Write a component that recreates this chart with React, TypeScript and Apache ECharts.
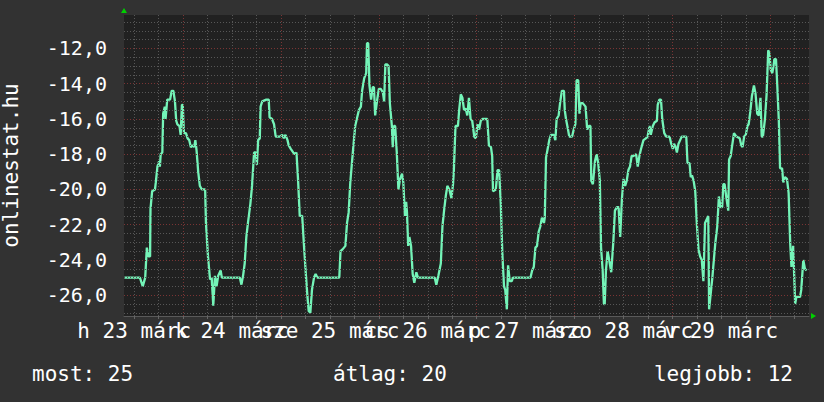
import React, { useEffect, useRef } from "react";
import * as echarts from "echarts";

// hours since 2015-03-23 00:00
const hours = [
  9.6, 13.4, 14.1, 14.7, 15.1, 15.5, 15.9, 16.0, 16.4, 17.1, 17.3, 17.7, 18.1, 18.3, 18.5, 18.9, 19.1, 19.5, 19.7, 20.1,
  20.8, 21.2, 21.6, 22.0, 22.3, 22.6, 23.1, 23.4, 23.7, 23.9, 24.2, 24.7, 25.1, 25.5, 25.9, 26.4, 26.7, 27.0, 27.3, 27.7,
  28.1, 28.6, 29.4, 29.6, 30.1, 30.6, 31.0, 31.4, 31.8, 32.2, 32.6, 33.2, 33.5, 37.9, 38.3, 38.7, 39.1, 39.5, 39.9, 40.5,
  40.9, 41.4, 41.8, 42.1, 42.4, 42.8, 43.0, 43.4, 44.4, 45.0, 45.2, 45.8, 46.3, 46.7, 47.7, 48.3, 48.7, 49.1, 49.6, 49.9,
  50.4, 51.0, 51.4, 51.8, 52.2, 52.6, 53.2, 53.7, 54.1, 54.5, 54.8, 55.2, 55.6, 56.1, 56.5, 56.9, 62.3, 62.6, 63.1, 63.8,
  64.2, 64.6, 65.0, 65.4, 65.7, 66.2, 66.7, 67.1, 67.6, 67.9, 68.4, 68.9, 69.1, 69.4, 69.7, 70.1, 70.5, 70.8, 71.1, 71.6,
  72.0, 72.5, 73.0, 73.3, 73.6, 74.0, 74.4, 74.7, 75.2, 75.4, 75.7, 76.0, 76.4, 76.8, 77.2, 77.7, 78.0, 78.4, 78.7, 78.9,
  79.2, 79.5, 79.9, 80.3, 80.7, 81.2, 81.6, 85.7, 86.1, 86.6, 87.2, 87.6, 88.0, 88.4, 88.8, 89.3, 89.8, 90.2, 90.4, 90.8,
  91.4, 91.7, 92.1, 92.5, 92.9, 93.3, 93.7, 94.1, 94.5, 94.9, 95.4, 95.8, 96.2, 96.6, 97.0, 97.4, 98.6, 99.0, 99.5, 99.8,
  100.0, 100.7, 101.1, 101.5, 101.9, 102.3, 102.7, 103.0, 103.4, 103.7, 104.1, 104.6, 104.9, 109.2, 109.6, 110.0, 110.4, 110.8, 111.2, 111.6,
  112.0, 112.5, 112.7, 113.0, 113.4, 113.8, 114.2, 114.9, 115.3, 115.6, 116.1, 116.5, 116.9, 117.4, 117.6, 117.9, 118.4, 118.7, 119.4, 119.8,
  120.2, 120.5, 120.9, 121.2, 121.5, 122.0, 122.7, 123.1, 123.5, 123.9, 124.1, 124.5, 125.0, 125.4, 125.8, 126.2, 126.5, 126.9, 127.2, 127.4,
  127.7, 128.1, 128.5, 129.0, 129.5, 129.9, 130.4, 130.8, 131.2, 131.6, 132.0, 132.4, 132.8, 133.2, 133.6, 134.0, 134.4, 135.1, 135.5, 135.9,
  136.3, 136.9, 137.5, 137.9, 138.4, 138.7, 139.2, 139.6, 140.2, 140.4, 140.8, 141.2, 141.5, 142.0, 142.5, 143.3, 143.7, 144.1, 144.4, 144.8,
  145.1, 145.5, 145.9, 146.3, 147.4, 147.7, 148.2, 148.5, 148.8, 149.2, 149.6, 150.0, 150.4, 150.8, 151.2, 151.6, 152.0, 152.4, 152.8, 153.0,
  153.4, 153.8, 154.2, 154.5, 155.0, 155.4, 155.8, 156.2, 156.5, 156.8, 157.2, 157.7, 157.9, 158.3, 158.6, 159.1, 159.7, 160.5, 160.9, 161.2,
  161.6, 162.0, 162.4, 162.7, 163.1, 163.5, 164.0, 164.4, 164.8, 165.2, 165.6, 165.9, 166.2, 166.7, 167.1, 167.5, 167.8, 168.1, 168.5, 168.8,
  169.0, 169.4, 169.7, 170.1, 170.4, 170.9, 171.2, 171.6, 172.1, 172.5, 172.9, 173.2, 173.6, 173.8, 174.1, 174.4, 175.3, 175.6, 176.1, 176.5,
  176.9,
];

const temps = [
  -25.0, -25.0, -25.5, -25.0, -23.3, -23.8, -23.8, -21.1, -20.1, -20.0, -19.6, -18.7, -18.4, -18.7, -18.0, -17.9, -15.7, -15.3, -16.0, -14.9,
  -14.9, -14.4, -14.4, -15.0, -16.1, -16.3, -16.4, -16.9, -15.2, -15.2, -16.8, -16.8, -17.1, -17.2, -17.6, -17.5, -17.6, -17.2, -17.8, -19.0,
  -19.8, -20.0, -20.0, -21.9, -23.8, -25.1, -25.0, -26.6, -24.9, -25.5, -24.9, -24.6, -25.0, -25.0, -25.4, -24.9, -24.2, -22.7, -21.9, -20.8,
  -19.8, -17.9, -17.9, -18.6, -17.2, -17.1, -15.3, -15.0, -14.9, -14.9, -15.9, -16.0, -16.3, -17.0, -17.0, -16.9, -17.1, -16.9, -17.2, -17.5,
  -17.7, -17.9, -18.0, -17.9, -19.5, -21.5, -21.5, -23.4, -24.8, -26.1, -26.9, -27.0, -25.7, -25.0, -24.8, -25.0, -25.0, -23.5, -23.4, -23.2,
  -21.9, -21.3, -19.6, -18.5, -17.7, -16.4, -15.9, -15.5, -15.3, -14.4, -13.7, -13.4, -11.7, -11.7, -14.1, -14.9, -14.2, -14.2, -15.8, -14.9,
  -14.3, -14.3, -14.5, -15.0, -12.9, -12.9, -13.0, -15.1, -16.4, -17.6, -16.4, -16.4, -17.9, -20.0, -19.4, -19.1, -19.6, -21.5, -20.7, -21.3,
  -23.2, -22.7, -23.2, -24.8, -25.3, -24.7, -25.0, -25.0, -25.4, -24.9, -24.2, -22.1, -21.2, -20.4, -19.8, -20.0, -20.5, -19.7, -18.9, -16.4,
  -16.4, -15.5, -14.6, -14.8, -15.5, -15.4, -15.8, -14.8, -16.0, -16.1, -17.0, -17.1, -16.3, -16.6, -16.1, -16.0, -16.0, -17.5, -17.6, -18.1,
  -20.1, -20.0, -18.9, -18.9, -20.8, -23.7, -25.5, -25.7, -26.8, -24.3, -25.2, -25.2, -25.0, -25.0, -24.6, -24.4, -23.3, -23.2, -22.4, -22.1,
  -21.6, -21.9, -21.6, -18.2, -17.7, -17.2, -16.9, -16.9, -17.2, -16.0, -15.8, -15.0, -14.4, -14.4, -15.5, -16.0, -16.6, -17.0, -17.0, -16.6,
  -16.3, -13.8, -13.8, -15.7, -15.1, -15.1, -15.3, -16.6, -16.4, -16.4, -19.5, -19.7, -18.4, -18.0, -18.5, -19.5, -23.3, -24.6, -26.5, -26.5,
  -24.6, -23.5, -24.0, -24.7, -23.0, -21.2, -21.0, -21.0, -22.7, -20.6, -19.4, -19.8, -19.5, -18.9, -18.7, -18.1, -18.1, -18.0, -18.7, -18.1,
  -17.7, -17.2, -17.1, -17.0, -16.4, -16.9, -16.4, -16.2, -16.1, -15.2, -14.9, -14.9, -16.0, -16.8, -17.0, -17.0, -17.4, -17.7, -17.4, -17.6,
  -17.9, -17.4, -17.2, -17.0, -17.0, -18.5, -18.5, -19.3, -19.2, -19.5, -20.1, -22.0, -23.4, -23.8, -24.0, -25.2, -21.9, -21.7, -21.5, -26.8,
  -25.9, -25.0, -23.9, -23.1, -22.1, -20.4, -21.0, -21.0, -19.7, -19.7, -20.4, -21.2, -18.3, -18.1, -17.6, -16.8, -17.0, -17.1, -17.5, -17.6,
  -17.0, -16.9, -16.4, -16.3, -15.6, -14.7, -14.1, -14.6, -15.7, -15.8, -14.8, -17.0, -17.0, -16.0, -14.6, -12.1, -12.3, -13.2, -13.4, -13.0,
  -12.6, -12.6, -14.0, -16.1, -18.8, -18.8, -19.6, -19.3, -19.4, -20.2, -23.1, -24.4, -23.2, -24.4, -26.5, -26.1, -26.1, -25.7, -24.0, -24.5,
  -24.6,
];

const dayLabels = ["h 23 márc", "k 24 márc", "sze 25 márc", "cs 26 márc", "p 27 márc", "szo 28 márc", "v 29 márc"];
const dayLabelHours = [12, 36, 60, 84, 108, 132, 156];
const yTickValues = [-26, -24, -22, -20, -18, -16, -14, -12];
const legendTexts = ["most: 25", "átlag: 20", "legjobb: 12"];
const yAxisTitle = "onlinestat.hu";

const X_MIN = 9.5;
const X_MAX = 177.5;
const Y_MIN = -27.18;
const Y_MAX = -10.1;

const W = 824;
const H = 402;
const GRID = { left: 124, top: 15, right: 15, bottom: 86 };
const FONT = '"DejaVu Sans Mono", monospace';
const BG = "#323232";
const CANVAS = "#212121";
const LINE = "#74f4b8";
const GRAY = "#575757";
const RED = "#7a3434";
const ARROW = "#00d000";

export default function App() {
  const ref = useRef<HTMLDivElement>(null);
  useEffect(() => {
    document.body.style.margin = "0";
    document.body.style.background = BG;
    const chart = echarts.init(ref.current!, null, { renderer: "svg" });
    const data = hours.map((h, i) => [h, temps[i]]);

    const gridLines: any[] = [];
    for (let h = 12; h <= X_MAX; h += 6) {
      gridLines.push({ xAxis: h, lineStyle: { color: h % 24 === 0 ? RED : GRAY } });
    }
    for (let v = -27; v <= -10.5; v += 0.5) {
      gridLines.push({ yAxis: v, lineStyle: { color: Math.abs(v % 2) === 0 ? RED : GRAY } });
    }
    const ticks6h: number[] = [];
    for (let h = 12; h <= X_MAX; h += 6) ticks6h.push(h);

    const right = W - GRID.right;
    const bottom = H - GRID.bottom;
    const labelFont = `21px ${FONT}`;

    const staticGraphics: any[] = [
      {
        type: "polygon",
        shape: { points: [[GRID.left - 3, GRID.top - 2], [GRID.left + 3, GRID.top - 2], [GRID.left, GRID.top - 7]] },
        style: { fill: ARROW },
        z: 10,
      },
      {
        type: "polygon",
        shape: { points: [[right + 2, bottom - 3], [right + 2, bottom + 3], [right + 7, bottom]] },
        style: { fill: ARROW },
        z: 10,
      },
      {
        type: "text",
        x: 11,
        y: (GRID.top + bottom) / 2,
        rotation: Math.PI / 2,
        style: { text: yAxisTitle, fill: "#ffffff", font: labelFont, verticalAlign: "middle", align: "center" },
      },
      {
        type: "text",
        x: 32,
        y: 374,
        style: { text: legendTexts[0], fill: "#ffffff", font: labelFont, verticalAlign: "middle", align: "left" },
      },
      {
        type: "text",
        x: 333,
        y: 374,
        style: { text: legendTexts[1], fill: "#ffffff", font: labelFont, verticalAlign: "middle", align: "left" },
      },
      {
        type: "text",
        x: 793,
        y: 374,
        style: { text: legendTexts[2], fill: "#ffffff", font: labelFont, verticalAlign: "middle", align: "right" },
      },
    ];

    chart.setOption({
      animation: false,
      backgroundColor: BG,
      grid: {
        left: GRID.left,
        top: GRID.top,
        right: GRID.right,
        bottom: GRID.bottom,
        containLabel: false,
        outerBoundsMode: "none",
        show: true,
        backgroundColor: CANVAS,
        borderWidth: 0,
      },
      xAxis: {
        type: "value",
        min: X_MIN,
        max: X_MAX,
        splitLine: { show: false },
        axisLine: { show: true, lineStyle: { color: "#5a5a5a", width: 1 } },
        axisTick: { show: true, customValues: ticks6h, length: 3, lineStyle: { color: "#666666" } },
        axisLabel: { show: false },
      },
      yAxis: {
        type: "value",
        min: Y_MIN,
        max: Y_MAX,
        splitLine: { show: false },
        axisLine: { show: false },
        axisTick: { show: false },
        axisLabel: {
          customValues: yTickValues,
          showMinLabel: true,
          showMaxLabel: true,
          formatter: (v: number) => v.toFixed(1).replace(".", ","),
          color: "#ffffff",
          fontFamily: FONT,
          fontSize: 20,
          margin: 17,
        },
      },
      series: [
        {
          type: "line",
          data: [],
          silent: true,
          z: 1,
          markLine: {
            silent: true,
            symbol: ["none", "none"],
            label: { show: false },
            emphasis: { disabled: true },
            lineStyle: { type: [1, 2], width: 1 },
            data: gridLines,
          },
        },
        {
          type: "line",
          data,
          symbol: "none",
          showSymbol: false,
          z: 3,
          lineStyle: { color: LINE, width: 2.3 },
        },
      ],
      graphic: staticGraphics,
    });

    // day labels placed through the x axis scale
    const dayTexts = dayLabelHours.map((h, i) => {
      const px = chart.convertToPixel({ xAxisIndex: 0 }, h) as number;
      return {
        type: "text",
        x: px,
        y: bottom + 15,
        z: 5,
        style: { text: dayLabels[i], fill: "#ffffff", font: labelFont, verticalAlign: "middle", align: "center" },
      };
    });
    chart.setOption({ graphic: [...staticGraphics, ...dayTexts] });

    return () => chart.dispose();
  }, []);
  return (
    <div
      ref={ref}
      style={{ position: "fixed", left: 0, top: 0, width: W, height: H, background: BG }}
    />
  );
}
